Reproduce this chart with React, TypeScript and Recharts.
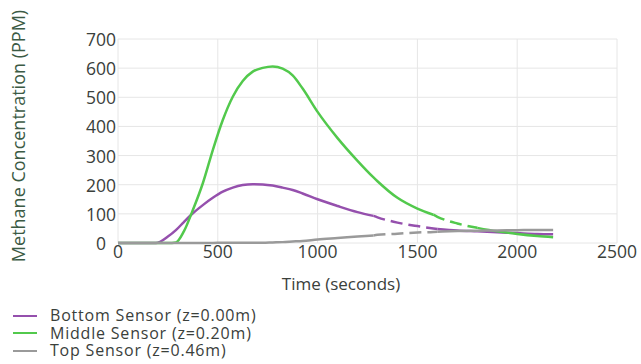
import { LineChart, Line, XAxis, YAxis, CartesianGrid } from 'recharts';

// time in seconds, methane in PPM
const times = [0, 100, 190, 250, 290, 330, 375, 425, 475, 525, 575, 625, 675, 725, 775, 825, 875, 925, 1000, 1100, 1200, 1280, 1300, 1400, 1500, 1580, 1600, 1700, 1800, 1900, 2000, 2100, 2180];
const bottomSensor = [0, 0, 0, 22, 44, 72, 102, 130, 155, 176, 190, 199, 202, 201, 197, 190, 182, 170, 150, 127, 106, 93, 88, 70, 58, 50, 48, 43, 40, 37, 34, 31, 30];
const middleSensor = [0, 0, 0, 0, 2, 40, 113, 205, 319, 422, 502, 556, 588, 601, 606, 598, 575, 530, 450, 360, 282, 225, 212, 155, 118, 97, 90, 67, 52, 40, 31, 24, 20];
const topSensor = [0, 0, 0, 0, 0, 0, 0, 0, 0, 1, 1, 1, 1, 1, 2, 3, 5, 7, 12, 17, 22, 26, 28, 32, 36, 38, 39, 41, 42, 43, 44, 45, 45];

const xTicks = [0, 500, 1000, 1500, 2000, 2500];
const yTicks = [0, 100, 200, 300, 400, 500, 600, 700];

// stretches drawn dashed
const bottomDash = [1280, 1600];
const middleDash = [1580, 1800];
const topDash = [1280, 1600];

const series = [
  { key: 'bottom', name: 'Bottom Sensor (z=0.00m)', values: bottomSensor, dash: bottomDash, color: '#9550ad' },
  { key: 'middle', name: 'Middle Sensor (z=0.20m)', values: middleSensor, dash: middleDash, color: '#52c94c' },
  { key: 'top', name: 'Top Sensor (z=0.46m)', values: topSensor, dash: topDash, color: '#9a9a9a' },
];

const data = times.map((t, i) => {
  const row: Record<string, number | null> = { t };
  series.forEach(s => {
    const [a, b] = s.dash;
    row[s.key] = t > a && t < b ? null : s.values[i];
    row[s.key + 'Dash'] = t >= a && t <= b ? s.values[i] : null;
  });
  return row;
});

const textColor = '#3a403b';
const font = '"Open Sans", sans-serif';

const YTick = (props: any) => {
  const { x, y, payload } = props;
  const shift = payload.value === 0 ? -10 : 0;
  return (
    <text x={x + shift} y={y} textAnchor="end" dominantBaseline="central" fill={textColor} fontSize={17.5} fontFamily={font}>
      {payload.value}
    </text>
  );
};

export default function App() {
  return (
    <div style={{ position: 'absolute', left: 0, top: 0, width: 641, height: 364, background: '#fff', fontFamily: font }}>
      <LineChart width={641} height={364} data={data} margin={{ top: 39, right: 24, bottom: 91, left: 0 }}>
        <CartesianGrid stroke="#e6e6e6" strokeWidth={1} />
        <XAxis
          dataKey="t"
          type="number"
          domain={[0, 2500]}
          ticks={xTicks}
          axisLine={false}
          tickLine={false}
          tickSize={0}
          tickMargin={3}
          height={30}
          tick={{ fill: textColor, fontSize: 17.5, fontFamily: font }}
          label={{
            content: () => (
              <text x={341} y={283} textAnchor="middle" dominantBaseline="central" fill={textColor} fontSize={17} fontFamily={font}>
                Time (seconds)
              </text>
            ),
          }}
        />
        <YAxis
          type="number"
          domain={[0, 700]}
          ticks={yTicks}
          width={118}
          axisLine={false}
          tickLine={false}
          tickSize={0}
          tickMargin={2}
          tick={<YTick />}
          label={{
            content: () => (
              <text x={18} y={136} transform="rotate(-90 18 136)" textAnchor="middle" dominantBaseline="central" fill="#3b5a44" fontSize={18} fontFamily={font}>
                Methane Concentration (PPM)
              </text>
            ),
          }}
        />
        {series.map(s => (
          <Line key={s.key} dataKey={s.key} type="monotone" stroke={s.color} strokeWidth={2.5} dot={false} isAnimationActive={false} />
        ))}
        {series.map(s => (
          <Line key={s.key + 'Dash'} dataKey={s.key + 'Dash'} type="monotone" stroke={s.color} strokeWidth={2.5} strokeDasharray="12 6" dot={false} isAnimationActive={false} />
        ))}
      </LineChart>
      <div style={{ position: 'absolute', left: 13, top: 307, fontSize: 16, letterSpacing: 0.8, color: textColor, lineHeight: '17.5px' }}>
        {series.map(s => (
          <div key={s.key} style={{ display: 'flex', alignItems: 'center' }}>
            <span style={{ display: 'inline-block', width: 24, height: 2, background: s.color, marginRight: 13 }} />
            <span>{s.name}</span>
          </div>
        ))}
      </div>
    </div>
  );
}
